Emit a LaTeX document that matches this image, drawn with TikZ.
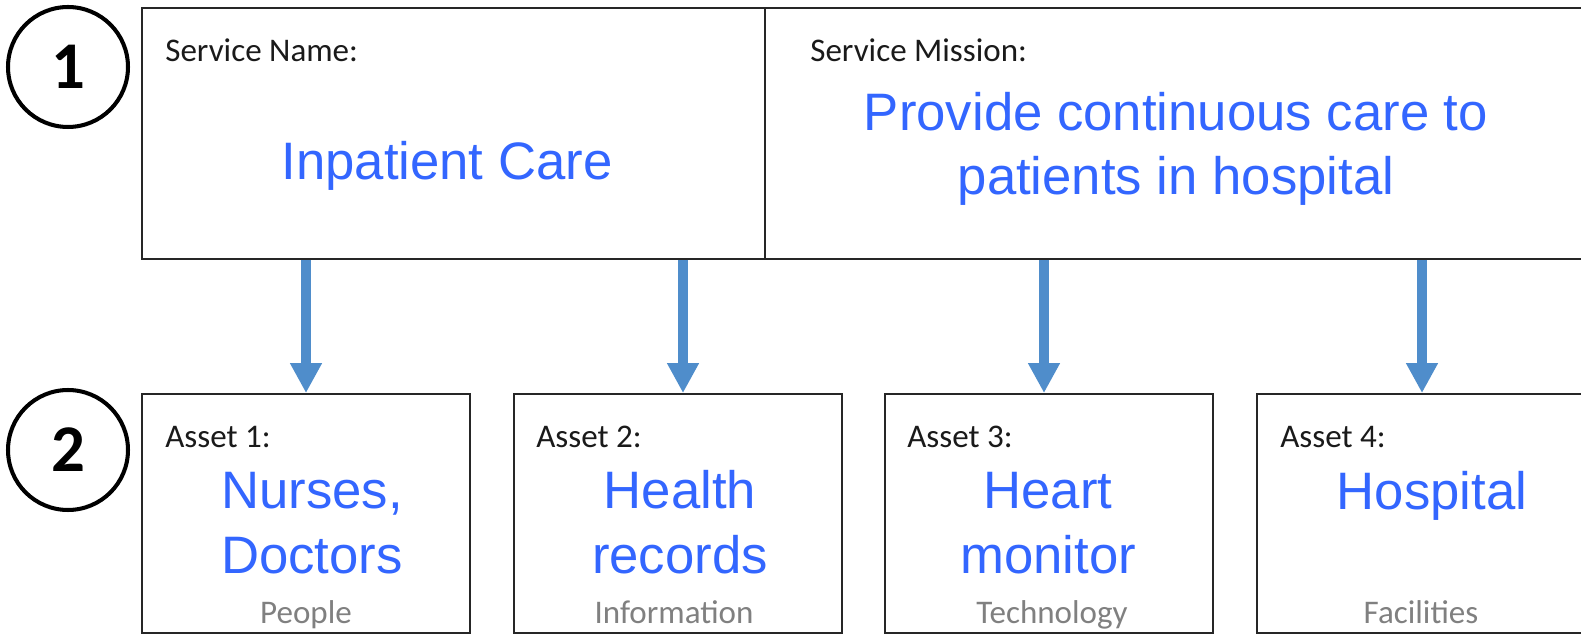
\documentclass[tikz,border=0pt]{standalone}
\usepackage{fontspec}
\setmainfont{Carlito}
\newfontfamily\arialfont{Liberation Sans}
\usetikzlibrary{arrows.meta,positioning,calc}
\definecolor{Frame}{HTML}{262626}
\definecolor{Ink}{HTML}{1A1A1A}
\definecolor{ValueBlue}{HTML}{3366FF}
\definecolor{KindGray}{HTML}{808080}
\definecolor{FlowBlue}{HTML}{4F8DCB}
\tikzset{panel/.style={rectangle,draw=Frame,line width=1.1pt,fill=white,minimum height=5.02cm,inner sep=0pt},assetbox/.style={rectangle,draw=Frame,line width=1.1pt,fill=white,minimum width=6.56cm,minimum height=4.78cm,inner sep=0pt},stagecircle/.style={circle,draw=black,line width=2.3pt,minimum size=2.4cm,inner sep=0pt,font=\bfseries\fontsize{38}{38}\selectfont},tag/.style={anchor=base west,text=Ink,font=\fontsize{18.8}{22}\selectfont,inner sep=0pt},value/.style={anchor=base,align=center,text=ValueBlue,font=\arialfont\fontsize{30}{36.6}\selectfont,inner sep=0pt},kind/.style={anchor=base,text=KindGray,font=\fontsize{18.8}{22}\selectfont,inner sep=0pt},flow/.style={draw=FlowBlue,line width=5.6pt,-{Triangle[width=17pt,length=17pt]}}}
\begin{document}
\begin{tikzpicture}[x=0.02cm,y=-0.02cm]
\useasboundingbox (0,0) rectangle (1581,634);
\node[panel,minimum width=12.46cm] (NameBox) at (453.5,133.5) {};\node[panel,minimum width=16.4cm] (MissionBox) at (1175,133.5) {};
\node[stagecircle] (StageOne) at (68,67) {1};\node[stagecircle] (StageTwo) at (68,450) {2};
\node[assetbox] (AssetA) at (306,513.5) {};\node[assetbox] (AssetB) at (678,513.5) {};\node[assetbox] (AssetC) at (1049,513.5) {};\node[assetbox] (AssetD) at (1421,513.5) {};
\node[tag] (NameTag) at (165,62) {Service Name:};\node[tag] (MissionTag) at (810,62) {Service Mission:};
\node[value] (NameVal) at (447,180) {Inpatient Care};\node[value] (MissionVal) at (1176,195) {Provide continuous care to\\patients in hospital};
\node[tag] (TagA) at (165,447) {Asset 1:};\node[tag] (TagB) at (536,447) {Asset 2:};\node[tag] (TagC) at (907,447) {Asset 3:};\node[tag] (TagD) at (1280,447) {Asset 4:};
\node[value] (ValA) at (312,573) {Nurses,\\Doctors};\node[value] (ValB) at (680,573) {Health\\records};\node[value] (ValC) at (1048,573) {Heart\\monitor};\node[value] (ValD) at (1432,509) {Hospital};
\node[kind] (KindA) at (306,623) {People};\node[kind] (KindB) at (674,623) {Information};\node[kind] (KindC) at (1052,623) {Technology};\node[kind] (KindD) at (1421,623) {Facilities};
\draw[flow] (NameBox.south -| AssetA.north)--(AssetA.north);
\draw[flow] ($(NameBox.south -| AssetB.north)+(5,0)$)--($(AssetB.north)+(5,0)$);
\draw[flow] ($(MissionBox.south -| AssetC.north)+(-5,0)$)--($(AssetC.north)+(-5,0)$);
\draw[flow] ($(MissionBox.south -| AssetD.north)+(1,0)$)--($(AssetD.north)+(1,0)$);
\end{tikzpicture}
\end{document}
